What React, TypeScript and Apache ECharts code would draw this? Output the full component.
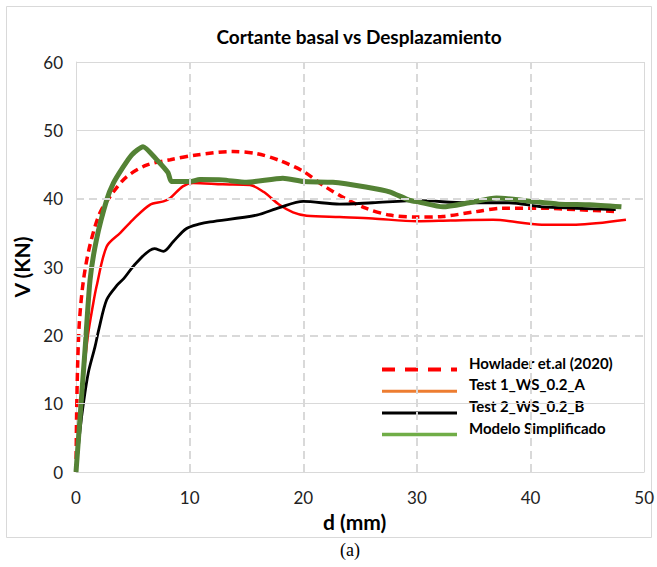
import React, { useEffect, useRef } from "react";
import * as echarts from "echarts";

const titleText = "Cortante basal vs Desplazamiento";
const xName = "d (mm)";
const yName = "V (KN)";
const caption = "(a)";

const seriesNames = [
  "Howlader et.al (2020)",
  "Test 1_WS_0.2_A",
  "Test 2_WS_0.2_B",
  "Modelo Simplificado",
];

const howlader: number[][] = [
  [0, 0], [0.05, 8], [0.15, 16], [0.3, 22], [0.65, 28], [1.2, 33], [2.1, 37.9],
  [3.3, 41], [4.45, 43.2], [6.2, 44.9], [8.3, 45.7], [10.6, 46.4], [13.8, 46.9],
  [15.9, 46.6], [17.9, 45.6], [20, 44], [21.7, 42], [23.5, 40.2], [25.5, 38.6],
  [27.6, 37.6], [30, 37.3], [32.3, 37.4], [35.2, 38.1], [37.5, 38.6], [41, 38.6],
  [44, 38.4], [47.8, 38.1],
];

const test1: number[][] = [
  [0, 0], [0.3, 7], [0.6, 13], [1.05, 20], [1.5, 24.5], [1.8, 27.1], [2.7, 33],
  [3.9, 35], [5, 36.9], [6.5, 39.1], [7.7, 39.6], [8.3, 40.1], [9.4, 41.8],
  [10.3, 42.3], [12.9, 42.1], [15.3, 42], [16.5, 41], [17.9, 39.1], [19.1, 38],
  [20.3, 37.5], [23.2, 37.3], [26.1, 37.1], [30, 36.7], [33, 36.8], [36.7, 36.9],
  [41, 36.2], [44, 36.2], [48.4, 36.9],
];

const test2: number[][] = [
  [0, 0], [0.35, 6], [0.65, 10], [1.08, 14.5], [1.67, 18.3], [2, 20.8], [2.7, 25.2],
  [3.6, 27.3], [4.2, 28.3], [5.3, 30.6], [6.9, 32.7], [7.7, 32.3], [8.55, 33.7],
  [9.7, 35.6], [10.9, 36.3], [11.8, 36.6], [15.9, 37.6], [17.9, 38.7], [20, 39.6],
  [23.2, 39.2], [26.1, 39.4], [30.2, 39.7], [34.3, 39.4], [38.1, 39.4], [41, 38.8],
  [44, 38.6], [47.5, 38.4],
];

const modelo: number[][] = [
  [0, 0], [0.4, 9], [0.8, 18], [1.23, 28], [1.8, 34], [2.7, 39.8], [3.3, 42.3],
  [4.1, 44.5], [4.9, 46.4], [5.9, 47.6], [7.1, 45.7], [8.1, 43.8], [8.4, 42.5],
  [10, 42.5], [10.9, 42.8], [12.9, 42.75], [15, 42.4], [18.2, 43], [20, 42.5],
  [22.6, 42.4], [25.5, 41.7], [27.6, 41], [29.3, 39.8], [30.2, 39.5], [32.3, 38.8],
  [34.6, 39.4], [37, 40.1], [39.6, 39.7], [42.5, 39.2], [45.2, 39.1], [48, 38.8],
];

const solidGridY = [10, 30, 50, 60];
const dashedGridY = [20, 40];
const dashedGridX = [10, 20, 30, 40];
const solidGridX = [50];

const FONT = "Lato, 'Noto Sans', sans-serif";

export default function App() {
  const ref = useRef<HTMLDivElement>(null);
  useEffect(() => {
    if (!ref.current) return;
    const chart = echarts.init(ref.current, undefined, { renderer: "svg" });
    const gridColor = "#d9d9d9";
    const solid = { color: gridColor, width: 1, type: "solid" as const };
    const dashed = { color: gridColor, width: 2, type: [8, 5] as any };
    const markData: any[] = [
      ...solidGridY.map((v) => ({ yAxis: v, lineStyle: solid })),
      ...dashedGridY.map((v) => ({ yAxis: v, lineStyle: dashed })),
      ...dashedGridX.map((v) => ({ xAxis: v, lineStyle: dashed })),
      ...solidGridX.map((v) => ({ xAxis: v, lineStyle: solid })),
    ];
    const hiddenSymbol = { opacity: 0, borderWidth: 0 };
    chart.setOption({
      animation: false,
      backgroundColor: "#ffffff",
      title: {
        text: titleText,
        left: 354,
        textAlign: "center",
        top: 22,
        textStyle: { fontFamily: FONT, fontWeight: "bold", fontSize: 19, color: "#000" },
      },
      grid: { left: 76, right: 12, top: 62, bottom: 95 },
      xAxis: {
        type: "value",
        min: 0,
        max: 50,
        interval: 10,
        name: xName,
        nameLocation: "middle",
        nameGap: 38,
        nameTextStyle: {
          fontFamily: FONT,
          fontWeight: "bold",
          fontSize: 21,
          color: "#000",
          padding: [0, 11, 0, 0],
        },
        axisLine: { show: true, lineStyle: { color: gridColor, width: 1 } },
        axisTick: { show: false },
        splitLine: { show: false },
        axisLabel: { fontFamily: FONT, fontSize: 17, color: "#222", margin: 17 },
      },
      yAxis: {
        type: "value",
        min: 0,
        max: 60,
        interval: 10,
        name: yName,
        nameLocation: "middle",
        nameGap: 26,
        nameTextStyle: { fontFamily: FONT, fontWeight: "bold", fontSize: 21, color: "#000" },
        axisLine: { show: true, lineStyle: { color: gridColor, width: 1 } },
        axisTick: { show: false },
        splitLine: { show: false },
        axisLabel: { fontFamily: FONT, fontSize: 17, color: "#222", margin: 13 },
      },
      legend: {
        orient: "vertical",
        left: 375,
        top: 350,
        itemWidth: 75,
        itemHeight: 14,
        itemGap: 1.6,
        formatter: (name: string) => `{t|${name}}`,
        textStyle: {
          fontFamily: FONT,
          fontWeight: "bold",
          fontSize: 15,
          color: "#000",
          rich: {
            t: {
              fontFamily: FONT,
              fontWeight: "bold",
              fontSize: 15,
              color: "#000",
              padding: [0, 0, 14, 7],
            },
          },
        },
        data: [
          { name: seriesNames[0], itemStyle: hiddenSymbol, lineStyle: { color: "#ff0000", width: 4, type: [13, 10] } },
          { name: seriesNames[1], itemStyle: hiddenSymbol, lineStyle: { color: "#ed7d31", width: 3 } },
          { name: seriesNames[2], itemStyle: hiddenSymbol, lineStyle: { color: "#000000", width: 3 } },
          { name: seriesNames[3], itemStyle: hiddenSymbol, lineStyle: { color: "#70ad47", width: 3.5 } },
        ],
      },
      graphic: [
        {
          type: "rect",
          shape: { x: 6.5, y: 6.5, width: 645, height: 531 },
          style: { fill: "none", stroke: gridColor, lineWidth: 1 },
          silent: true,
          z: -10,
        },
        {
          type: "text",
          x: 350,
          y: 550,
          style: {
            text: caption,
            fontFamily: "'Liberation Serif', 'DejaVu Serif', serif",
            fontSize: 18,
            fill: "#000",
            textAlign: "center",
            textVerticalAlign: "middle",
          },
        },
      ],
      series: [
        {
          type: "line",
          name: "grid",
          data: [],
          z: 0,
          silent: true,
          markLine: {
            silent: true,
            symbol: "none",
            label: { show: false },
            animation: false,
            data: markData,
          },
        },
        {
          type: "line",
          name: seriesNames[0],
          data: howlader,
          smooth: 0.3,
          showSymbol: false,
          symbol: "none",
          z: 3,
          lineStyle: { color: "#ff0000", width: 3.5, type: [8, 5] },
          itemStyle: { color: "#ff0000" },
        },
        {
          type: "line",
          name: seriesNames[1],
          data: test1,
          smooth: 0.3,
          showSymbol: false,
          symbol: "none",
          z: 3,
          lineStyle: { color: "#ff0000", width: 2.5 },
          itemStyle: { color: "#ed7d31" },
        },
        {
          type: "line",
          name: seriesNames[2],
          data: test2,
          smooth: 0.3,
          showSymbol: false,
          symbol: "none",
          z: 3,
          lineStyle: { color: "#000000", width: 2.8 },
          itemStyle: { color: "#000000" },
        },
        {
          type: "line",
          name: seriesNames[3],
          data: modelo,
          smooth: 0.2,
          showSymbol: false,
          symbol: "none",
          z: 4,
          lineStyle: { color: "#548235", width: 5 },
          itemStyle: { color: "#70ad47" },
        },
      ],
    });
    return () => chart.dispose();
  }, []);
  return (
    <div
      ref={ref}
      style={{ position: "fixed", left: 0, top: 0, width: 657, height: 567 }}
    />
  );
}
